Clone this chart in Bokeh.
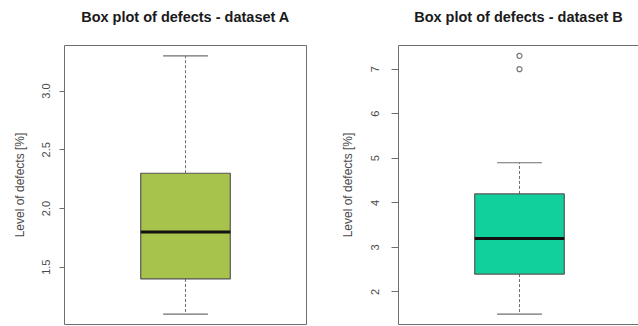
from bokeh.plotting import figure
from bokeh.layouts import row
from bokeh.models import Range1d, FixedTicker, LinearAxis
from bokeh.embed import file_html
from bokeh.resources import INLINE

# ---- data ----
datasets = ["A", "B"]
lower_whisker = [1.1, 1.5]
q1 = [1.4, 2.4]
median = [1.8, 3.2]
q3 = [2.3, 4.2]
upper_whisker = [3.3, 4.9]
outliers = [[], [7.0, 7.3]]
y_ticks = [[1.5, 2.0, 2.5, 3.0], [2, 3, 4, 5, 6, 7]]
y_tick_labels = [["1.5", "2.0", "2.5", "3.0"], ["2", "3", "4", "5", "6", "7"]]
fills = ["#A8C34B", "#12D09B"]

FONT = "Liberation Sans"
LINE = "#6e6e6e"
TEXT = "#4a4a4a"


def make_panel(i, width, border_left, border_right, x_end, tick_out, label_standoff, axis_label_standoff):
    lo = min([lower_whisker[i]] + outliers[i])
    hi = max([upper_whisker[i]] + outliers[i])
    pad = 0.04 * (hi - lo)
    p = figure(width=width, height=326, output_backend="svg", toolbar_location=None,
               x_range=Range1d(0.5, x_end), y_range=Range1d(lo - pad, hi + pad),
               x_axis_location=None, min_border_left=border_left, min_border_right=border_right,
               min_border_top=45, min_border_bottom=2,
               title="Box plot of defects - dataset " + datasets[i])
    p.grid.visible = False
    p.background_fill_color = "white"
    p.border_fill_color = "white"
    p.outline_line_color = None

    p.title.align = "center"
    p.title.text_font = FONT
    p.title.text_font_size = "14.5px"
    p.title.text_font_style = "bold"
    p.title.text_color = "#1a1a1a"
    p.title.standoff = 10
    p.title.padding = dict(left=0, right=0, top=0, bottom=16)

    ax = p.yaxis[0]
    ax.ticker = FixedTicker(ticks=y_ticks[i])
    ax.major_label_overrides = dict(zip(y_ticks[i], y_tick_labels[i]))
    ax.minor_tick_line_color = None
    ax.major_tick_out = tick_out
    ax.major_tick_in = 0
    ax.major_tick_line_color = LINE
    ax.axis_line_color = LINE
    ax.major_label_orientation = "vertical"
    ax.major_label_text_font = FONT
    ax.major_label_text_font_size = "11px"
    ax.major_label_text_color = TEXT
    ax.major_label_standoff = label_standoff
    ax.axis_label = "Level of defects [%]"
    ax.axis_label_text_font = FONT
    ax.axis_label_text_font_size = "12px"
    ax.axis_label_text_font_style = "normal"
    ax.axis_label_text_color = TEXT
    ax.axis_label_standoff = axis_label_standoff

    # border lines drawn as tick-less axes
    sides = ["above", "below"] + (["right"] if i == 0 else [])
    for side in sides:
        b = LinearAxis(ticker=FixedTicker(ticks=[]), axis_line_color=LINE,
                       major_tick_out=0, major_tick_in=0,
                       minor_tick_out=0, minor_tick_in=0,
                       major_label_standoff=0, major_label_text_font_size="0px")
        p.add_layout(b, side)

    x = 1
    box_w = 0.37
    cap_w = box_w / 2
    # whiskers (dashed)
    p.segment(x0=[x, x], y0=[q3[i], q1[i]], x1=[x, x], y1=[upper_whisker[i], lower_whisker[i]],
              line_color=LINE, line_dash="3 2", line_width=1)
    # caps
    p.segment(x0=[x - cap_w / 2] * 2, y0=[upper_whisker[i], lower_whisker[i]],
              x1=[x + cap_w / 2] * 2, y1=[upper_whisker[i], lower_whisker[i]],
              line_color=LINE, line_width=1.2)
    # box
    p.vbar(x=[x], width=box_w, bottom=[q1[i]], top=[q3[i]], fill_color=fills[i],
           line_color="#555555", line_width=1.2)
    # median
    p.segment(x0=[x - box_w / 2], y0=[median[i]], x1=[x + box_w / 2], y1=[median[i]],
              line_color="#111111", line_width=3)
    # outliers
    if outliers[i]:
        p.scatter(x=[x] * len(outliers[i]), y=outliers[i], marker="circle", size=5,
                  fill_color=None, line_color="#777777", line_width=1.2)
    return p


pA = make_panel(0, 319, 64, 13, 1.5, 5, 9, 13)
pB = make_panel(1, 319, 79, 0, 0.5 + 240 / 242, 7, 12, 14)

layout = row(pA, pB)
open("out.html", "w").write(file_html(layout, INLINE))
